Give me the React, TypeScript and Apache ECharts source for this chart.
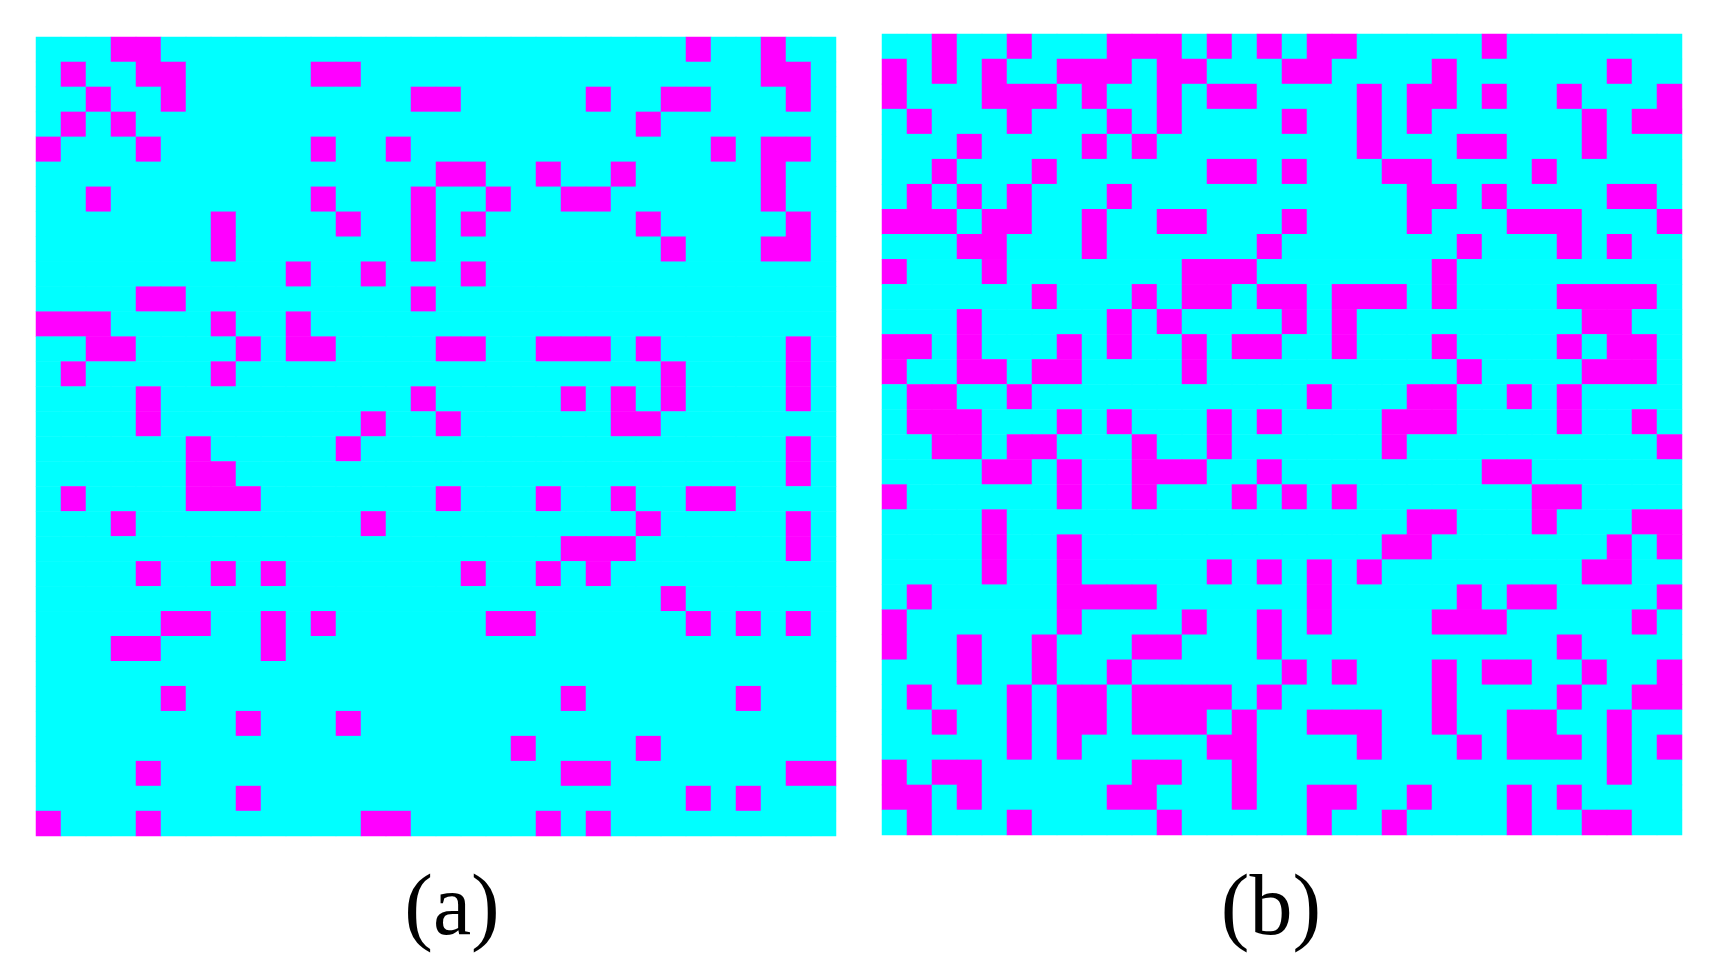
import React, { useEffect, useRef } from "react";
import * as echarts from "echarts";

// 32 x 32 binary maps: for each row (top to bottom), the columns that are magenta
const GRID_SIZE = 32;

const panelAMagentaCols: number[][] = [
  [3, 4, 26, 29],
  [1, 4, 5, 11, 12, 29, 30],
  [2, 5, 15, 16, 22, 25, 26, 30],
  [1, 3, 24],
  [0, 4, 11, 14, 27, 29, 30],
  [16, 17, 20, 23, 29],
  [2, 11, 15, 18, 21, 22, 29],
  [7, 12, 15, 17, 24, 30],
  [7, 15, 25, 29, 30],
  [10, 13, 17],
  [4, 5, 15],
  [0, 1, 2, 7, 10],
  [2, 3, 8, 10, 11, 16, 17, 20, 21, 22, 24, 30],
  [1, 7, 25, 30],
  [4, 15, 21, 23, 25, 30],
  [4, 13, 16, 23, 24],
  [6, 12, 30],
  [6, 7, 30],
  [1, 6, 7, 8, 16, 20, 23, 26, 27],
  [3, 13, 24, 30],
  [21, 22, 23, 30],
  [4, 7, 9, 17, 20, 22],
  [25],
  [5, 6, 9, 11, 18, 19, 26, 28, 30],
  [3, 4, 9],
  [],
  [5, 21, 28],
  [8, 12],
  [19, 24],
  [4, 21, 22, 30, 31],
  [8, 26, 28],
  [0, 4, 13, 14, 20, 22],
];

const panelBMagentaCols: number[][] = [
  [2, 5, 9, 10, 11, 13, 15, 17, 18, 24],
  [0, 2, 4, 7, 8, 9, 11, 12, 16, 17, 22, 29],
  [0, 4, 5, 6, 8, 11, 13, 14, 19, 21, 22, 24, 27, 31],
  [1, 5, 9, 11, 16, 19, 21, 28, 30, 31],
  [3, 8, 10, 19, 23, 24, 28],
  [2, 6, 13, 14, 16, 20, 21, 26],
  [1, 3, 5, 9, 21, 22, 24, 29, 30],
  [0, 1, 2, 4, 5, 8, 11, 12, 16, 21, 25, 26, 27, 31],
  [3, 4, 8, 15, 23, 27, 29],
  [0, 4, 12, 13, 14, 22],
  [6, 10, 12, 13, 15, 16, 18, 19, 20, 22, 27, 28, 29, 30],
  [3, 9, 11, 16, 18, 28, 29],
  [0, 1, 3, 7, 9, 12, 14, 15, 18, 22, 27, 29, 30],
  [0, 3, 4, 6, 7, 12, 23, 28, 29, 30],
  [1, 2, 5, 17, 21, 22, 25, 27],
  [1, 2, 3, 7, 9, 13, 15, 20, 21, 22, 27, 30],
  [2, 3, 5, 6, 10, 13, 20, 31],
  [4, 5, 7, 10, 11, 12, 15, 24, 25],
  [0, 7, 10, 14, 16, 18, 26, 27],
  [4, 21, 22, 26, 30, 31],
  [4, 7, 20, 21, 29, 31],
  [4, 7, 13, 15, 17, 19, 28, 29],
  [1, 7, 8, 9, 10, 17, 23, 25, 26, 31],
  [0, 7, 12, 15, 17, 22, 23, 24, 30],
  [0, 3, 6, 10, 11, 15, 27],
  [3, 6, 9, 16, 18, 22, 24, 25, 28, 31],
  [1, 5, 7, 8, 10, 11, 12, 13, 15, 22, 27, 30, 31],
  [2, 5, 7, 8, 10, 11, 12, 14, 17, 18, 19, 22, 25, 26, 29],
  [5, 7, 13, 14, 19, 23, 25, 26, 27, 29, 31],
  [0, 2, 3, 10, 11, 14, 29],
  [0, 1, 3, 9, 10, 14, 17, 18, 21, 25, 27],
  [1, 5, 11, 17, 20, 25, 28, 29],
];

const panelLabels = ["(a)", "(b)"];
const CYAN = "#00FFFF";
const MAGENTA = "#FF00FF";

function buildCells(rows: number[][]): number[][] {
  const out: number[][] = [];
  for (let r = 0; r < GRID_SIZE; r++) {
    const set = new Set(rows[r]);
    for (let c = 0; c < GRID_SIZE; c++) {
      out.push([c, r, set.has(c) ? 1 : 0]);
    }
  }
  return out;
}

export default function App() {
  const ref = useRef<HTMLDivElement>(null);

  useEffect(() => {
    if (!ref.current) return;
    const chart = echarts.init(ref.current, undefined, { renderer: "svg" });
    const idx = Array.from({ length: GRID_SIZE }, (_, i) => String(i));
    const labelX = [452, 1271];

    const option: any = {
      animation: false,
      backgroundColor: "#ffffff",
      grid: [
        { left: 36, top: 37, width: 800, height: 799 },
        { left: 882, top: 34, width: 800, height: 801 },
      ],
      xAxis: [0, 1].map((g) => ({
        type: "category",
        data: idx,
        gridIndex: g,
        show: false,
      })),
      yAxis: [0, 1].map((g) => ({
        type: "category",
        data: idx,
        gridIndex: g,
        inverse: true,
        show: false,
      })),
      visualMap: {
        type: "piecewise",
        show: false,
        dimension: 2,
        seriesIndex: [0, 1],
        pieces: [
          { value: 0, color: CYAN },
          { value: 1, color: MAGENTA },
        ],
      },
      series: [panelAMagentaCols, panelBMagentaCols].map((rows, g) => ({
        type: "heatmap",
        xAxisIndex: g,
        yAxisIndex: g,
        data: buildCells(rows),
        itemStyle: { borderWidth: 0 },
        emphasis: { disabled: true },
        silent: true,
      })),
      graphic: panelLabels.map((t, i) => ({
        type: "text",
        x: labelX[i],
        y: 905,
        style: {
          text: t,
          fontFamily: "'Liberation Serif', 'Times New Roman', Times, serif",
          fontSize: 86,
          fill: "#000",
          textAlign: "center",
          textVerticalAlign: "middle",
        },
      })),
    };
    chart.setOption(option);
    return () => chart.dispose();
  }, []);

  return (
    <div
      ref={ref}
      style={{
        position: "fixed",
        left: 0,
        top: 0,
        width: 1716,
        height: 970,
        background: "#fff",
      }}
    />
  );
}
